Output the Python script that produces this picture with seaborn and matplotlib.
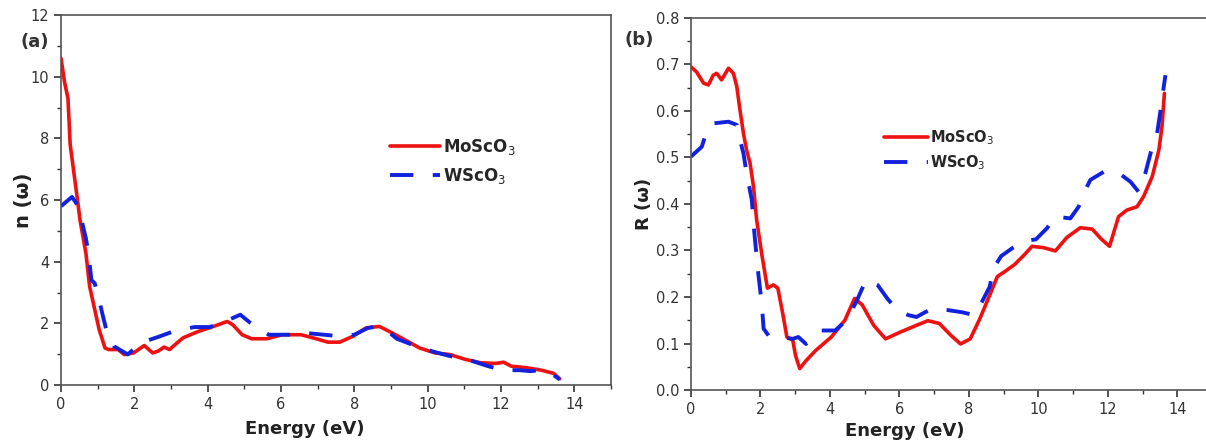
import numpy as np
import pandas as pd
import matplotlib
matplotlib.use("Agg")
import matplotlib.pyplot as plt
from matplotlib.ticker import MultipleLocator, FormatStrFormatter
import seaborn as sns

# ---- Panel (a): refractive index n(w) ----
n_mo_E = [0.0, 0.1, 0.19, 0.25, 0.45, 0.52, 0.68, 0.78, 0.88, 1.04, 1.2, 1.3, 1.56, 1.72, 1.98,
          2.27, 2.5, 2.65, 2.81, 2.96, 3.17, 3.33, 3.75, 4.16, 4.53, 4.68, 4.94, 5.2, 5.62, 6.03,
          6.55, 6.87, 7.28, 7.6, 7.96, 8.32, 8.68, 8.95, 9.37, 9.78, 10.2, 10.6, 11.03, 11.45,
          11.86, 12.07, 12.28, 12.7, 13.1, 13.43, 13.6]
n_mo = [10.6, 9.8, 9.3, 7.8, 6.0, 5.34, 4.27, 3.2, 2.66, 1.8, 1.2, 1.15, 1.15, 0.99, 1.04,
        1.28, 1.04, 1.1, 1.23, 1.15, 1.37, 1.53, 1.74, 1.9, 2.06, 1.96, 1.63, 1.5, 1.5, 1.63,
        1.63, 1.53, 1.39, 1.39, 1.58, 1.85, 1.9, 1.74, 1.47, 1.2, 1.04, 0.99, 0.83, 0.72,
        0.7, 0.74, 0.61, 0.56, 0.48, 0.38, 0.2]

n_w_E = [0.0, 0.3, 0.47, 0.68, 0.75, 0.83, 0.92, 1.06, 1.15, 1.27, 1.44, 1.82, 2.18, 2.7, 3.07,
         3.64, 4.06, 4.47, 4.89, 5.26, 5.67, 6.24, 6.55, 7.18, 7.6, 8.0, 8.37, 8.64, 8.85, 9.16,
         9.68, 10.1, 10.6, 11.03, 11.65, 12.07, 12.5, 12.8, 13.1, 13.37, 13.6]
n_w = [5.8, 6.1, 5.8, 4.75, 4.27, 3.4, 3.3, 2.66, 2.2, 1.63, 1.26, 0.99, 1.37, 1.58, 1.74,
       1.88, 1.88, 2.06, 2.28, 1.92, 1.63, 1.63, 1.7, 1.63, 1.58, 1.63, 1.85, 1.9, 1.8, 1.5,
       1.26, 1.1, 0.94, 0.85, 0.61, 0.48, 0.48, 0.45, 0.48, 0.38, 0.18]

# ---- Panel (b): reflectivity R(w) ----
r_mo_E = [0.0, 0.16, 0.36, 0.5, 0.64, 0.74, 0.88, 1.08, 1.22, 1.32, 1.41, 1.51, 1.6, 1.7, 1.8,
          1.89, 2.04, 2.2, 2.37, 2.5, 2.65, 2.76, 2.93, 3.01, 3.13, 3.31, 3.59, 4.04, 4.43, 4.71,
          4.93, 5.26, 5.6, 6.04, 6.49, 6.82, 7.15, 7.49, 7.76, 8.04, 8.32, 8.6, 8.82, 9.04, 9.32,
          9.6, 9.82, 10.16, 10.49, 10.82, 11.21, 11.55, 11.82, 12.05, 12.31, 12.55, 12.84,
          13.03, 13.28, 13.47, 13.56, 13.63]
r_mo = [0.695, 0.684, 0.66, 0.656, 0.677, 0.681, 0.667, 0.692, 0.681, 0.652, 0.602, 0.552,
        0.516, 0.488, 0.437, 0.366, 0.291, 0.219, 0.226, 0.219, 0.161, 0.114, 0.107, 0.074,
        0.046, 0.063, 0.085, 0.114, 0.15, 0.197, 0.183, 0.139, 0.11, 0.125, 0.139, 0.149,
        0.143, 0.117, 0.099, 0.11, 0.154, 0.204, 0.244, 0.255, 0.27, 0.291, 0.309, 0.306,
        0.299, 0.328, 0.349, 0.346, 0.324, 0.309, 0.373, 0.387, 0.394, 0.416, 0.459, 0.516,
        0.566, 0.638]

r_w_E = [0.0, 0.31, 0.45, 0.6, 1.08, 1.32, 1.41, 1.51, 1.6, 1.75, 1.81, 1.92, 2.04, 2.09, 2.26,
         2.59, 2.93, 3.09, 3.31, 3.76, 4.15, 4.48, 4.76, 5.04, 5.37, 5.65, 5.93, 6.26, 6.49,
         6.93, 7.38, 7.82, 8.15, 8.38, 8.6, 8.71, 8.93, 9.27, 9.6, 9.93, 10.25, 10.49, 10.92,
         11.16, 11.35, 11.5, 11.88, 12.27, 12.65, 12.89, 13.08, 13.28, 13.42, 13.52, 13.61, 13.66]
r_w = [0.502, 0.523, 0.556, 0.573, 0.577, 0.57, 0.538, 0.509, 0.466, 0.409, 0.349, 0.262,
       0.183, 0.132, 0.114, 0.114, 0.11, 0.114, 0.099, 0.128, 0.128, 0.15, 0.19, 0.237, 0.226,
       0.197, 0.172, 0.161, 0.157, 0.175, 0.172, 0.167, 0.161, 0.19, 0.222, 0.262, 0.288,
       0.306, 0.32, 0.324, 0.348, 0.373, 0.369, 0.394, 0.43, 0.452, 0.469, 0.469, 0.448,
       0.426, 0.466, 0.523, 0.552, 0.602, 0.652, 0.677]

series_labels = ["MoScO$_3$", "WScO$_3$"]
series_colors = ["#ee1111", "#1122dd"]

sns.set_style("white")
plt.rcParams['font.family'] = ['DejaVu Sans']

W, H = 1206, 440
fig = plt.figure(figsize=(W / 100, H / 100), dpi=100)
axa = fig.add_axes([61 / W, 55 / H, 550 / W, 370 / H])
axb = fig.add_axes([691 / W, 50 / H, 521 / W, 372 / H])

dash = (6, 5)

def draw(ax, xs1, ys1, xs2, ys2):
    df1 = pd.DataFrame({"E": xs1, "v": ys1})
    df2 = pd.DataFrame({"E": xs2, "v": ys2})
    sns.lineplot(data=df1, x="E", y="v", ax=ax, color=series_colors[0], lw=2.6,
                 label=series_labels[0], estimator=None, sort=False)
    sns.lineplot(data=df2, x="E", y="v", ax=ax, color=series_colors[1], lw=2.8,
                 label=series_labels[1], estimator=None, sort=False, dashes=False)
    ax.lines[-1].set_dashes(dash)

draw(axa, n_mo_E, n_mo, n_w_E, n_w)
draw(axb, r_mo_E, r_mo, r_w_E, r_w)

for ax in (axa, axb):
    ax.set_xlim(0, 15)
    ax.xaxis.set_major_locator(MultipleLocator(2))
    ax.xaxis.set_minor_locator(MultipleLocator(1))
    ax.tick_params(axis="both", which="major", direction="out", length=5, width=1.2,
                   labelsize=10.5, labelcolor="#333333", colors="#333333",
                   bottom=True, left=True, top=False, right=False)
    ax.tick_params(axis="both", which="minor", direction="out", length=3, width=1,
                   bottom=True, left=True, top=False, right=False, colors="#333333")
    for s in ax.spines.values():
        s.set_color("#555555")
        s.set_linewidth(1.2)
    ax.set_xlabel("Energy (eV)", fontsize=13, fontweight="bold", color="#222222")

axb.spines["right"].set_visible(False)

axa.set_ylim(0, 12)
axa.yaxis.set_major_locator(MultipleLocator(2))
axa.yaxis.set_minor_locator(MultipleLocator(1))
axa.set_ylabel("n (ω)", fontsize=14, fontweight="bold", color="#222222")
axa.xaxis.set_label_coords(0.444, -0.095)
axa.yaxis.set_label_coords(-0.05, 0.5)

axb.set_ylim(0, 0.8)
axb.yaxis.set_major_locator(MultipleLocator(0.1))
axb.yaxis.set_minor_locator(MultipleLocator(0.05))
axb.yaxis.set_major_formatter(FormatStrFormatter("%.1f"))
axb.set_ylabel("R (ω)", fontsize=13, fontweight="bold", color="#222222")
axb.xaxis.set_label_coords(0.41, -0.085)
axb.yaxis.set_label_coords(-0.072, 0.5)

axa.legend(loc="upper left", bbox_to_anchor=((383 - 61) / 550, 1 - (130 - 15) / 370),
           frameon=False, prop={"size": 12, "weight": "bold"}, handlelength=3.0,
           handletextpad=0.2, labelspacing=0.55, borderaxespad=0)
axb.legend(loc="upper left", bbox_to_anchor=((878 - 691) / 521, 1 - (122 - 18) / 372),
           frameon=False, prop={"size": 10.5, "weight": "bold"}, handlelength=3.0,
           handletextpad=0.2, labelspacing=0.45, borderaxespad=0)

fig.text(20 / W, 1 - 42 / H, "(a)", fontsize=13, fontweight="bold", color="#333333",
         va="center", ha="left")
fig.text(625 / W, 1 - 40 / H, "(b)", fontsize=13, fontweight="bold", color="#333333",
         va="center", ha="left")

fig.savefig("out.png", dpi=100)
